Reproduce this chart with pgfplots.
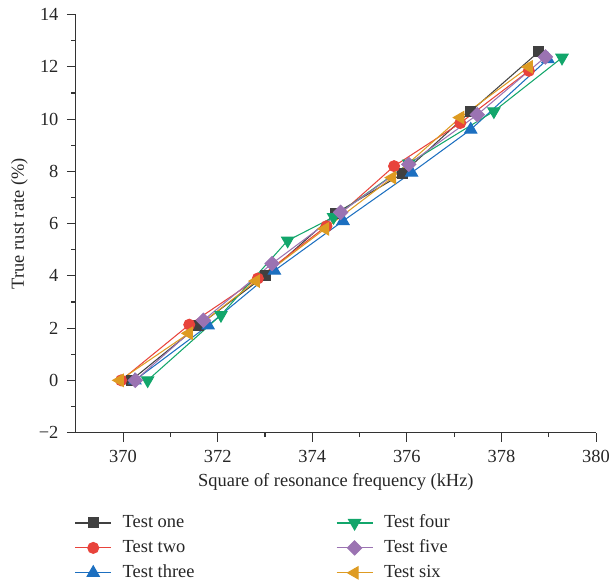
\documentclass[border=0pt]{standalone}
\usepackage{fontspec}
\setmainfont{Liberation Serif}
\usepackage{pgfplots}
\pgfplotsset{compat=1.18}
\definecolor{cOne}{HTML}{404040}
\definecolor{cTwo}{HTML}{E8433B}
\definecolor{cThree}{HTML}{1C6FC0}
\definecolor{cFour}{HTML}{12A66B}
\definecolor{cFive}{HTML}{9B73B2}
\definecolor{cSix}{HTML}{DE9B22}
\begin{document}
\fontsize{18.5}{22}\selectfont
\begin{tikzpicture}
\path[use as bounding box] (-76pt,-154pt) rectangle (536pt,434pt);
\begin{axis}[
  scale only axis,
  width=522pt, height=419.3pt,
  xmin=369, xmax=380, ymin=-2, ymax=14,
  axis lines*=left,
  axis line style={draw=black!80, line width=1.2pt},
  tick style={draw=black!80, line width=1.1pt},
  tick align=outside,
  major tick length=9pt, minor tick length=4.5pt,
  xtick={370,372,...,380}, minor x tick num=1,
  ytick={-2,0,...,14}, minor y tick num=1,
  yticklabels={−2,0,2,4,6,8,10,12,14},
  /pgf/number format/assume math mode=true,
  /pgf/number format/set thousands separator={},
  ticklabel style={font=\fontsize{18.5}{22}\selectfont, text=black!85},
  xticklabel style={yshift=-2pt},
  yticklabel style={xshift=-2pt},
  xlabel={Square of resonance frequency (kHz)},
  ylabel={True rust rate (\%)},
  label style={font=\fontsize{18.5}{22}\selectfont, text=black!85},
  xlabel style={at={(axis description cs:0.5,-0.119)}, anchor=center},
  ylabel style={at={(axis description cs:-0.108,0.5)}, anchor=center},
  every axis plot/.append style={line width=1.05pt},
  legend columns=3,
  transpose legend,
  legend cell align=left,
  legend image code/.code={\draw[mark repeat=2,mark phase=2,#1] plot coordinates {(0pt,0pt)(18pt,0pt)(36pt,0pt)};},
  legend style={draw=none, fill=none, at={(axis description cs:-0.008,-0.186)}, anchor=north west,
    font=\fontsize{18.5}{22}\selectfont, text=black!85,
    nodes={text height=13pt, text depth=4pt, inner sep=2pt},
    row sep=4pt,
    /tikz/every odd column/.append style={column sep=9pt},
    /tikz/every even column/.append style={column sep=140pt}},
]
\addplot[color=cOne, mark=square*, mark size=5pt, mark options={solid, fill=cOne}] coordinates {
(370.17,0) (371.60,2.10) (373.02,4.03) (374.50,6.40) (375.90,7.90) (377.35,10.30) (378.79,12.58)};
\addlegendentry{Test one}
\addplot[color=cTwo, mark=*, mark size=5.5pt, mark options={solid, fill=cTwo}] coordinates {
(369.96,0) (371.40,2.13) (372.85,3.90) (374.30,5.90) (375.73,8.20) (377.13,9.85) (378.58,11.85)};
\addlegendentry{Test two}
\addplot[color=cThree, mark=triangle*, mark size=7pt, mark options={solid, fill=cThree}] coordinates {
(370.25,0) (371.80,2.10) (373.20,4.20) (374.65,6.10) (376.10,7.95) (377.35,9.60) (378.98,12.30)};
\addlegendentry{Test three}
\addplot[color=cFour, mark=triangle*, mark size=7pt, mark options={solid, fill=cFour, rotate=180}] coordinates {
(370.52,0) (372.07,2.50) (373.48,5.35) (374.45,6.25) (376.04,8.30) (377.84,10.30) (379.28,12.35)};
\addlegendentry{Test four}
\addplot[color=cFive, mark=square*, mark size=5pt, mark options={solid, fill=cFive, rotate=45}] coordinates {
(370.26,0) (371.70,2.30) (373.15,4.47) (374.60,6.43) (376.04,8.27) (377.49,10.17) (378.93,12.38)};
\addlegendentry{Test five}
\addplot[color=cSix, mark=triangle*, mark size=7pt, mark options={solid, fill=cSix, rotate=90}] coordinates {
(369.93,0) (371.39,1.80) (372.81,3.80) (374.27,5.80) (375.69,7.76) (377.13,10.06) (378.58,12.00)};
\addlegendentry{Test six}
\end{axis}
\end{tikzpicture}
\end{document}
